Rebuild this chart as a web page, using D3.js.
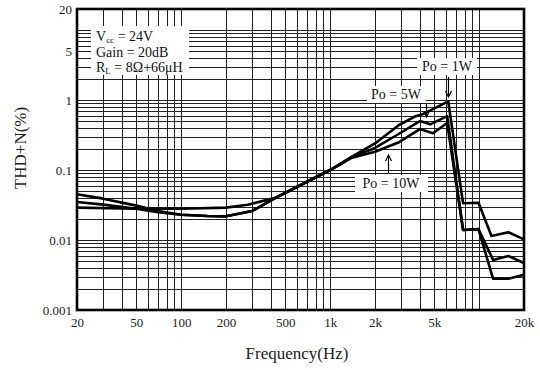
<!DOCTYPE html>
<html>
<head>
<meta charset="utf-8">
<script src="https://cdn.jsdelivr.net/npm/d3@7"></script>
<style>
  html, body { margin: 0; padding: 0; background: #fff; }
  svg { display: block; }
  svg text { font-family: "Liberation Serif", "Times New Roman", Times, serif !important; }
</style>
</head>
<body>
<div id="chart"></div>
<script>
// ---- data ----
const freq1W  = [20, 30, 50, 70, 100, 150, 200, 300, 430, 700, 1000, 1400, 2000, 2900, 3700, 4200, 6200, 7800, 9900, 12100, 15700, 20000];
const thd1W   = [0.045, 0.039, 0.031, 0.026, 0.023, 0.022, 0.0218, 0.026, 0.040, 0.068, 0.10, 0.155, 0.24, 0.44, 0.58, 0.63, 0.96, 0.0335, 0.034, 0.0114, 0.0129, 0.0102];
const freq5W  = [20, 30, 50, 70, 100, 150, 200, 300, 430, 700, 1000, 1400, 2000, 2900, 4000, 4700, 6100, 7800, 9900, 12400, 15700, 20000];
const thd5W   = [0.035, 0.032, 0.028, 0.025, 0.023, 0.022, 0.0218, 0.026, 0.040, 0.068, 0.10, 0.153, 0.207, 0.33, 0.50, 0.45, 0.59, 0.0139, 0.0143, 0.0052, 0.0059, 0.0047];
const freq10W = [20, 50, 100, 200, 280, 430, 700, 1000, 1400, 2000, 2900, 4000, 4900, 6100, 7800, 9900, 12400, 15700, 20000];
const thd10W  = [0.029, 0.028, 0.028, 0.029, 0.032, 0.040, 0.068, 0.10, 0.15, 0.183, 0.25, 0.385, 0.335, 0.47, 0.0139, 0.0143, 0.0028, 0.0028, 0.0032];

const xTickValues = [20, 50, 100, 200, 500, 1000, 2000, 5000, 20000];
const xTickLabels = ["20", "50", "100", "200", "500", "1k", "2k", "5k", "20k"];
const yTickValues = [20, 5, 1, 0.1, 0.01, 0.001];
const yTickLabels = ["20", "5", "1", "0.1", "0.01", "0.001"];

const labels = ["Po = 1W", "Po = 5W", "Po = 10W"];
const arrowFreqs = [6200, 4400, 2440];

// ---- layout ----
const W = 540, H = 370;
const L = 77, R = 524, T = 9, B = 310;
const SERIF = "'Liberation Serif', 'Times New Roman', serif";

const svg = d3.select("#chart").append("svg").attr("width", W).attr("height", H);

const x = d3.scaleLog().domain([20, 20000]).range([L, R]);
const y = d3.scaleLog().domain([0.001, 20]).range([B, T]);

// grid
const xGrid = [];
for (let e = 1; e <= 4; e++) for (let k = 1; k <= 9; k++) {
  const v = k * Math.pow(10, e);
  if (v > 20 && v < 20000) xGrid.push(v);
}
const yGrid = [];
for (let e = -3; e <= 1; e++) for (let k = 1; k <= 9; k++) {
  const v = +(k * Math.pow(10, e)).toPrecision(3);
  if (v > 0.001 && v < 20) yGrid.push(v);
}
const g = svg.append("g");
g.selectAll("line.vx").data(xGrid).enter().append("line")
  .attr("x1", d => Math.round(x(d)) + 0.5).attr("x2", d => Math.round(x(d)) + 0.5)
  .attr("y1", T).attr("y2", B)
  .attr("stroke", "#222").attr("stroke-width", 1);
g.selectAll("line.hy").data(yGrid).enter().append("line")
  .attr("y1", d => Math.round(y(d)) + 0.5).attr("y2", d => Math.round(y(d)) + 0.5)
  .attr("x1", L).attr("x2", R)
  .attr("stroke", "#222").attr("stroke-width", 1);

// frame
svg.append("rect").attr("x", L).attr("y", T).attr("width", R - L).attr("height", B - T)
  .attr("fill", "none").attr("stroke", "#000").attr("stroke-width", 2.6);

// axes
const xAxis = d3.axisBottom(x).tickValues(xTickValues)
  .tickFormat((d, i) => xTickLabels[i]).tickSize(0).tickPadding(4);
const xa = svg.append("g").attr("transform", `translate(0,${B + 1})`).call(xAxis)
  .attr("font-family", SERIF);
xa.select(".domain").remove();
xa.selectAll("text").attr("font-size", 13).attr("fill", "#222").attr("dy", "0.9em");

const yAxis = d3.axisLeft(y).tickValues(yTickValues)
  .tickFormat((d, i) => yTickLabels[i]).tickSize(0).tickPadding(4);
const ya = svg.append("g").attr("transform", `translate(${L - 1},0)`).call(yAxis)
  .attr("font-family", SERIF);
ya.select(".domain").remove();
ya.selectAll("text").attr("font-size", 13).attr("fill", "#222");

// axis titles
svg.append("text").attr("x", 297).attr("y", 359).attr("text-anchor", "middle")
  .attr("font-family", SERIF).attr("font-size", 17).attr("fill", "#222").text("Frequency(Hz)");
svg.append("text").attr("transform", "translate(26,148) rotate(-90)").attr("text-anchor", "middle")
  .attr("font-family", SERIF).attr("font-size", 17).attr("fill", "#222").text("THD+N(%)");

// curves
const line = d3.line().x(d => x(d[0])).y(d => y(d[1])).curve(d3.curveLinear);
const series = [
  d3.zip(freq1W, thd1W),
  d3.zip(freq5W, thd5W),
  d3.zip(freq10W, thd10W)
];
svg.append("g").selectAll("path").data(series).enter().append("path")
  .attr("d", line).attr("fill", "none").attr("stroke", "#000")
  .attr("stroke-width", 2.6).attr("stroke-linejoin", "round");

// condition box
svg.append("rect").attr("x", 91).attr("y", 26).attr("width", 98).attr("height", 49).attr("fill", "#fff");
const cond = svg.append("text").attr("font-family", SERIF).attr("font-size", 14).attr("fill", "#111");
const t1 = cond.append("tspan").attr("x", 96).attr("y", 41);
t1.append("tspan").text("V");
t1.append("tspan").attr("font-size", 9).attr("dy", 2).text("cc");
t1.append("tspan").attr("dy", -2).text(" = 24V");
cond.append("tspan").attr("x", 96).attr("y", 57).text("Gain = 20dB");
const t3 = cond.append("tspan").attr("x", 96).attr("y", 72);
t3.append("tspan").text("R");
t3.append("tspan").attr("font-size", 9).attr("dy", 2).text("L");
t3.append("tspan").attr("dy", -2).text(" = 8Ω+66μH");

// Po labels
const labelBoxes = [
  { x: 417, y: 58, w: 60, h: 17, tx: 447, ty: 71 },
  { x: 367, y: 86, w: 59, h: 17, tx: 396, ty: 99 },
  { x: 355, y: 175, w: 73, h: 17, tx: 391, ty: 188 }
];
labels.forEach((lab, i) => {
  const b = labelBoxes[i];
  svg.append("rect").attr("x", b.x).attr("y", b.y).attr("width", b.w).attr("height", b.h).attr("fill", "#fff");
  svg.append("text").attr("x", b.tx).attr("y", b.ty).attr("text-anchor", "middle")
    .attr("font-family", SERIF).attr("font-size", 14).attr("fill", "#111").text(lab);
});

// arrows
const arrows = [
  { y1: 77, y2: 97 },
  { y1: 104, y2: 117 },
  { y1: 173, y2: 155 }
];
arrows.forEach((a, i) => {
  const ax = Math.round(x(arrowFreqs[i])) + 0.5;
  svg.append("line").attr("x1", ax).attr("x2", ax).attr("y1", a.y1).attr("y2", a.y2)
    .attr("stroke", "#000").attr("stroke-width", 1.2);
  const dir = a.y2 > a.y1 ? 1 : -1;
  svg.append("path")
    .attr("d", `M${ax - 3},${a.y2 - dir * 6} L${ax},${a.y2} L${ax + 3},${a.y2 - dir * 6}`)
    .attr("fill", "none").attr("stroke", "#000").attr("stroke-width", 1.2);
});
</script>
</body>
</html>
